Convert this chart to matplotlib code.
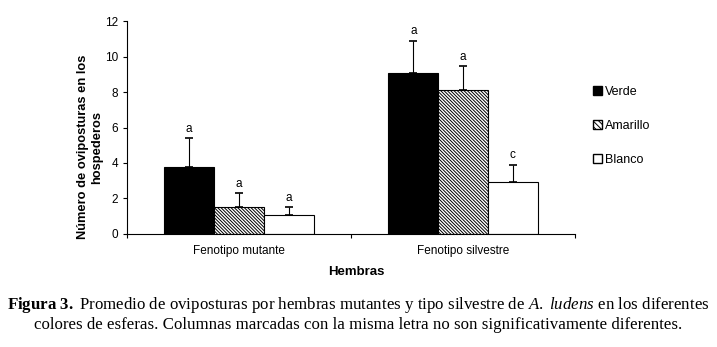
import numpy as np
import matplotlib
matplotlib.use('Agg')
import matplotlib.pyplot as plt
from matplotlib.patches import Patch

plt.rcParams['font.family'] = 'Liberation Sans'
plt.rcParams['hatch.linewidth'] = 0.7
plt.rcParams['mathtext.fontset'] = 'custom'
plt.rcParams['mathtext.rm'] = 'Liberation Serif'
plt.rcParams['mathtext.it'] = 'Liberation Serif:italic'
plt.rcParams['mathtext.bf'] = 'Liberation Serif:bold'

# Data
groups = ['Fenotipo mutante', 'Fenotipo silvestre']
series = ['Verde', 'Amarillo', 'Blanco']
verde = [3.8, 9.1]
amarillo = [1.5, 8.1]
blanco = [1.05, 2.95]
verde_err = [1.6, 1.8]
amarillo_err = [0.8, 1.35]
blanco_err = [0.45, 0.95]
verde_let = ['a', 'a']
amarillo_let = ['a', 'a']
blanco_let = ['a', 'c']

fig = plt.figure(figsize=(7.17, 3.47), dpi=100)
ax = fig.add_axes([0.177, 0.326, 0.625, 0.613])

x = np.arange(len(groups))
w = 0.222
hatch = '\\' * 10
styles = [dict(color='black', edgecolor='black'),
          dict(color='white', edgecolor='black', hatch=hatch),
          dict(color='white', edgecolor='black')]
vals = [verde, amarillo, blanco]
errs = [verde_err, amarillo_err, blanco_err]
lets = [verde_let, amarillo_let, blanco_let]

for i in range(3):
    pos = x + (i - 1) * w
    ax.bar(pos, vals[i], w, linewidth=0.8, **styles[i])
    ax.errorbar(pos, vals[i], yerr=[np.zeros(2), errs[i]], fmt='none',
                ecolor='black', elinewidth=0.8, capsize=3, capthick=1.2)
    for p, v, e, l in zip(pos, vals[i], errs[i], lets[i]):
        ax.text(p, v + e + 0.2, l, ha='center', va='bottom', fontsize=8.5)

ax.set_xlim(-0.5, 1.5)
ax.set_ylim(0, 12)
ax.set_yticks(range(0, 13, 2))
ax.set_xticks([-0.5, 0.5, 1.5])
ax.set_xticklabels(['', '', ''])
for xi, g in zip(x, groups):
    ax.text(xi, -0.6, g, ha='center', va='top', fontsize=8.5)
ax.tick_params(axis='both', direction='out', length=3, labelsize=8.5)
ax.spines['top'].set_visible(False)
ax.spines['right'].set_visible(False)

# y label sits a bit lower than the axes centre in the original
fig.text(90 / 717, 1 - 147 / 347, 'Número de oviposturas en los\nhospederos',
         rotation=90, ha='center', va='center', fontsize=9.3,
         fontweight='bold', multialignment='center')
fig.text(0.497, 0.215, 'Hembras', ha='center', va='center', fontsize=9.5,
         fontweight='bold')

handles = [Patch(facecolor='black', edgecolor='black'),
           Patch(facecolor='white', edgecolor='black', hatch='\\' * 6),
           Patch(facecolor='white', edgecolor='black')]
fig.legend(handles, series, loc='upper left', bbox_to_anchor=(0.812, 0.785),
           frameon=False, fontsize=9, handlelength=0.7, handleheight=0.7,
           handletextpad=0.2, labelspacing=1.75)

caption = (r'$\mathbf{Figura\ 3.}$ Promedio de oviposturas por hembras mutantes y tipo silvestre de '
           r'$\mathit{A.}$ $\mathit{ludens}$ en los diferentes' '\n'
           'colores de esferas. Columnas marcadas con la misma letra no son significativamente diferentes.')
fig.text(0.5, 0.04, caption, ha='center', va='bottom', fontsize=12.2,
         family='Liberation Serif', multialignment='center', linespacing=1.2)

plt.savefig('out.png', dpi=100)
plt.close()
